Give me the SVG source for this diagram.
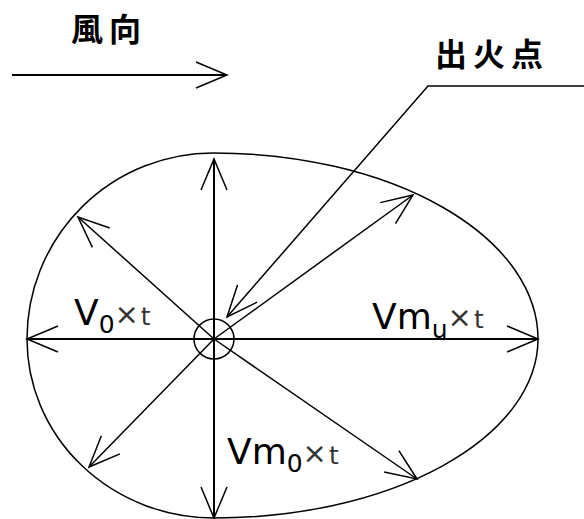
<svg xmlns="http://www.w3.org/2000/svg" width="584" height="519" viewBox="0 0 584 519">
<style>
.ln{stroke:#000;stroke-width:1.5;fill:none}
.ax{stroke:#000;stroke-width:2;fill:none}
.cjk{font-family:"Noto Sans CJK JP","Noto Sans CJK SC",sans-serif;font-weight:bold;font-size:32px;letter-spacing:6px;fill:#000}
.big{font-family:"DejaVu Sans",sans-serif;font-size:36px;fill:#000}
.sub{font-family:"DejaVu Sans",sans-serif;font-size:25px;fill:#000}
.x{font-family:"DejaVu Sans",sans-serif;font-size:29px;fill:#333}
.t{font-family:"DejaVu Sans",sans-serif;font-size:25px;fill:#333}
</style>
<defs>
<marker id="ah" markerUnits="userSpaceOnUse" markerWidth="40" markerHeight="32" refX="0" refY="0" viewBox="-34 -16 38 32" orient="auto" overflow="visible">
<path d="M-31,-13 L0,0 L-31,13" fill="none" stroke="#000" stroke-width="1.5"/>
</marker>
</defs>
<rect width="584" height="519" fill="#fff"/>
<g id="fire-zone">
<path class="ln" d="M27,339 A186,186 0 0 1 214,153 A324,186 0 0 1 538,339 A324,179 0 0 1 214,518 A187,179 0 0 1 27,339 Z"/>
<circle class="ln" cx="214" cy="339" r="20"/>
</g>
<g id="connectors">
<line class="ax" x1="12" y1="75" x2="227" y2="75" marker-end="url(#ah)"/>
<line class="ax" x1="214" y1="339" x2="538" y2="339" marker-end="url(#ah)"/>
<line class="ax" x1="214" y1="339" x2="27" y2="339" marker-end="url(#ah)"/>
<line class="ax" x1="214" y1="339" x2="214" y2="159" marker-end="url(#ah)"/>
<line class="ax" x1="214" y1="339" x2="214" y2="518" marker-end="url(#ah)"/>
<line class="ln" x1="214" y1="339" x2="78" y2="217" marker-end="url(#ah)"/>
<line class="ln" x1="214" y1="339" x2="413" y2="195" marker-end="url(#ah)"/>
<line class="ln" x1="214" y1="339" x2="89" y2="467" marker-end="url(#ah)"/>
<line class="ln" x1="214" y1="339" x2="417" y2="479" marker-end="url(#ah)"/>
<polyline class="ln" points="584,86 428,86 227,317" marker-end="url(#ah)"/>
</g>
<g id="wind-label"><text class="cjk" x="71" y="41">風向</text></g>
<g id="fire-label"><text class="cjk" x="435" y="66">出火点</text></g>
<g id="label-v0"><text x="74" y="325"><tspan class="big">V</tspan><tspan class="sub" dy="8">0</tspan><tspan class="x" dy="-9">×</tspan><tspan class="t" dx="2" dy="1">t</tspan></text></g>
<g id="label-vmu"><text x="372" y="329"><tspan class="big">Vm</tspan><tspan class="sub" dy="9">u</tspan><tspan class="x" dy="-11">×</tspan><tspan class="t" dx="2" dy="1">t</tspan></text></g>
<g id="label-vm0"><text x="227" y="464"><tspan class="big">Vm</tspan><tspan class="sub" dy="8">0</tspan><tspan class="x" dy="-9">×</tspan><tspan class="t" dx="2" dy="1">t</tspan></text></g>
</svg>
